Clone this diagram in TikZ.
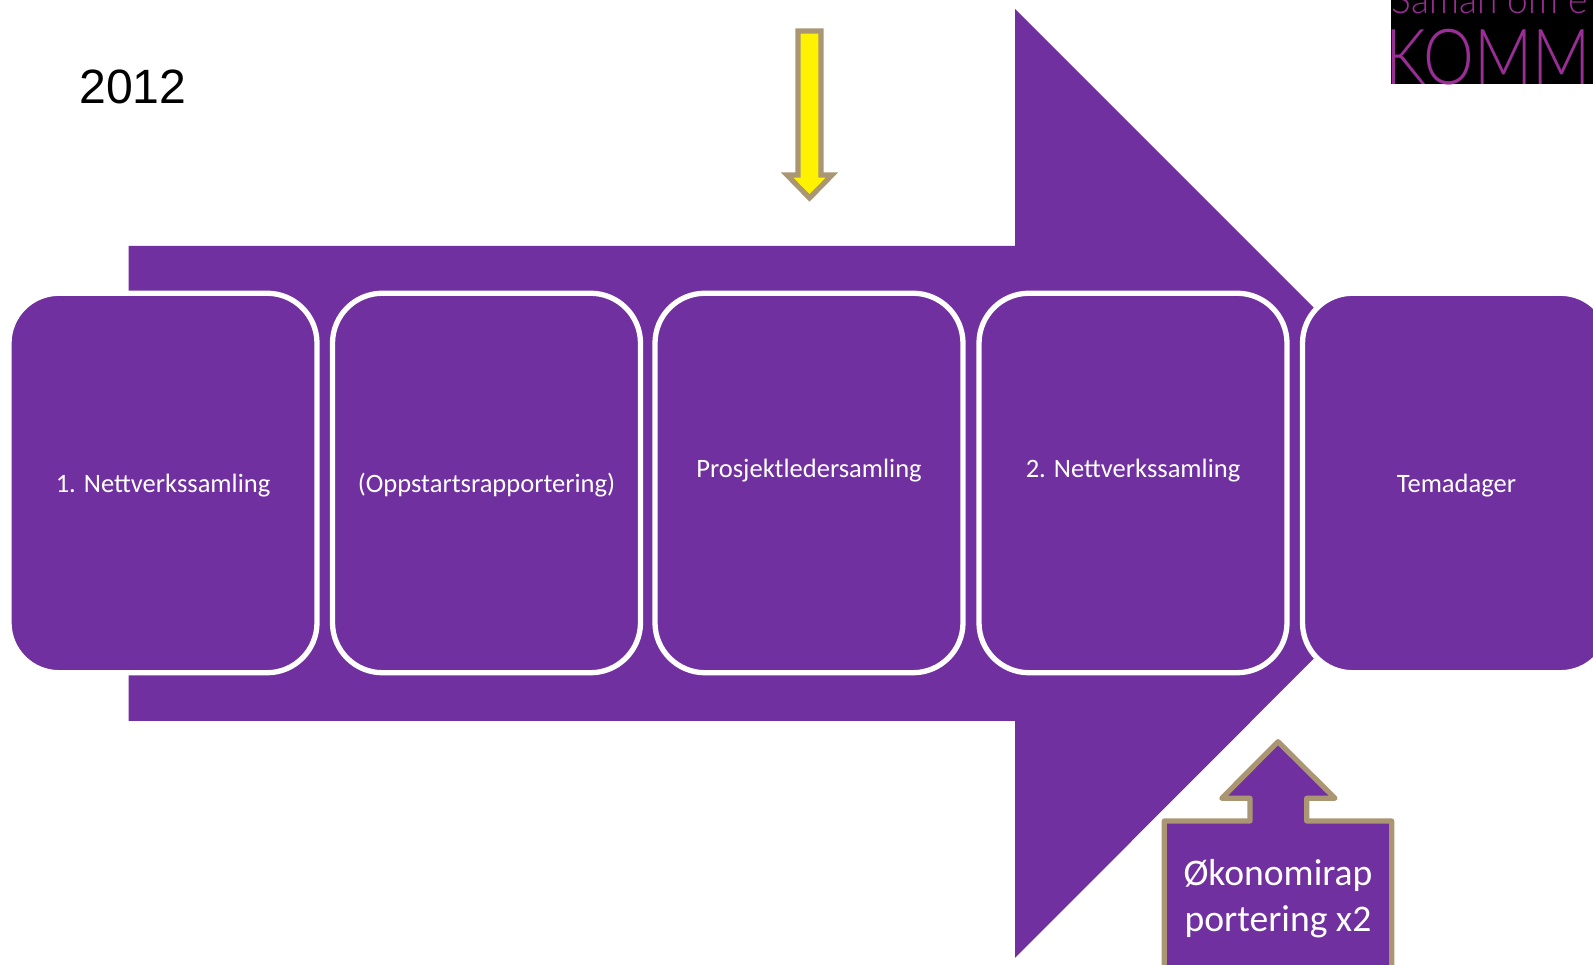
\documentclass[tikz,border=0pt]{standalone}
\usepackage{fontspec}
\usepackage{xcolor}
\setmainfont{Carlito}
\newfontfamily\yearfont{Liberation Sans}
\newfontfamily\logofont{Lato Light}

\definecolor{fasepurple}{HTML}{7030A0}
\definecolor{logopurple}{HTML}{9B2D96}
\definecolor{kanttan}{HTML}{AA9672}

\tikzset{
    fasebox/.style={rectangle, rounded corners=0.5cm, fill=fasepurple, draw=white, line width=0.053cm,
        minimum width=3.08cm, minimum height=3.795cm, inner sep=0pt, text=white, align=center, text depth=0pt,
        font=\fontsize{7.55}{8.5}\selectfont},
    utkant/.style={draw=kanttan, line width=0.052cm}
}

\begin{document}
\begin{tikzpicture}
    \useasboundingbox (0,0) rectangle (15.93,9.65);

    % stor pil
    \fill[fasepurple] (1.285,7.19) -- (10.15,7.19) -- (10.15,9.56) -- (14.89,4.82) -- (10.15,0.07) -- (10.15,2.44) -- (1.285,2.44) -- cycle;

    \node[fasebox] (samling1) at (1.63,4.82) {1. Nettverkssamling};
    \node[fasebox] (oppstart) at (4.865,4.82) {(Oppstartsrapportering)};
    \node[fasebox] (leder) at (8.09,4.82) {Prosjektledersamling\\\mbox{}};
    \node[fasebox] (samling2) at (11.33,4.82) {2. Nettverkssamling\\\mbox{}};
    \node[fasebox] (temadager) at (14.565,4.82) {Temadager};

    \node[font=\yearfont\fontsize{13.7}{16}\selectfont, anchor=center] (aar) at (1.33,8.78) {2012};

    % gul pil
    \draw[utkant, fill=yellow, miter limit=10] (7.98,9.34) -- (8.21,9.34) -- (8.21,7.90) -- (8.32,7.90) -- (8.095,7.67) -- (7.87,7.90) -- (7.98,7.90) -- cycle;

    % opp-pil med tekst
    \draw[utkant, fill=fasepurple, line join=round] (11.643,-0.2) -- (11.643,1.44) -- (12.50,1.44) -- (12.50,1.667) -- (12.217,1.667) -- (12.78,2.233) -- (13.35,1.667) -- (13.067,1.667) -- (13.067,1.44) -- (13.917,1.44) -- (13.917,-0.2) -- cycle;
    \node[text=white, align=center, font=\fontsize{10.7}{13}\selectfont] (okonomi) at (12.78,0.665) {Økonomirap\\portering x2};

    % logo
    \fill[black] (13.91,8.805) rectangle (15.93,9.65);
    \begin{scope}
        \clip (13.91,8.805) rectangle (15.93,9.65);
        \node[anchor=base west, inner sep=0pt, text=logopurple, font=\logofont\fontsize{11}{13}\selectfont] (saman) at (13.91,9.51) {\scalebox{0.96}[1]{Saman om e}};
        \node[anchor=base west, inner sep=0pt, text=logopurple, font=\logofont\fontsize{22}{26}\selectfont] (komm) at (13.85,8.805) {\scalebox{0.83}[1]{KOMM}};
    \end{scope}
\end{tikzpicture}
\end{document}
